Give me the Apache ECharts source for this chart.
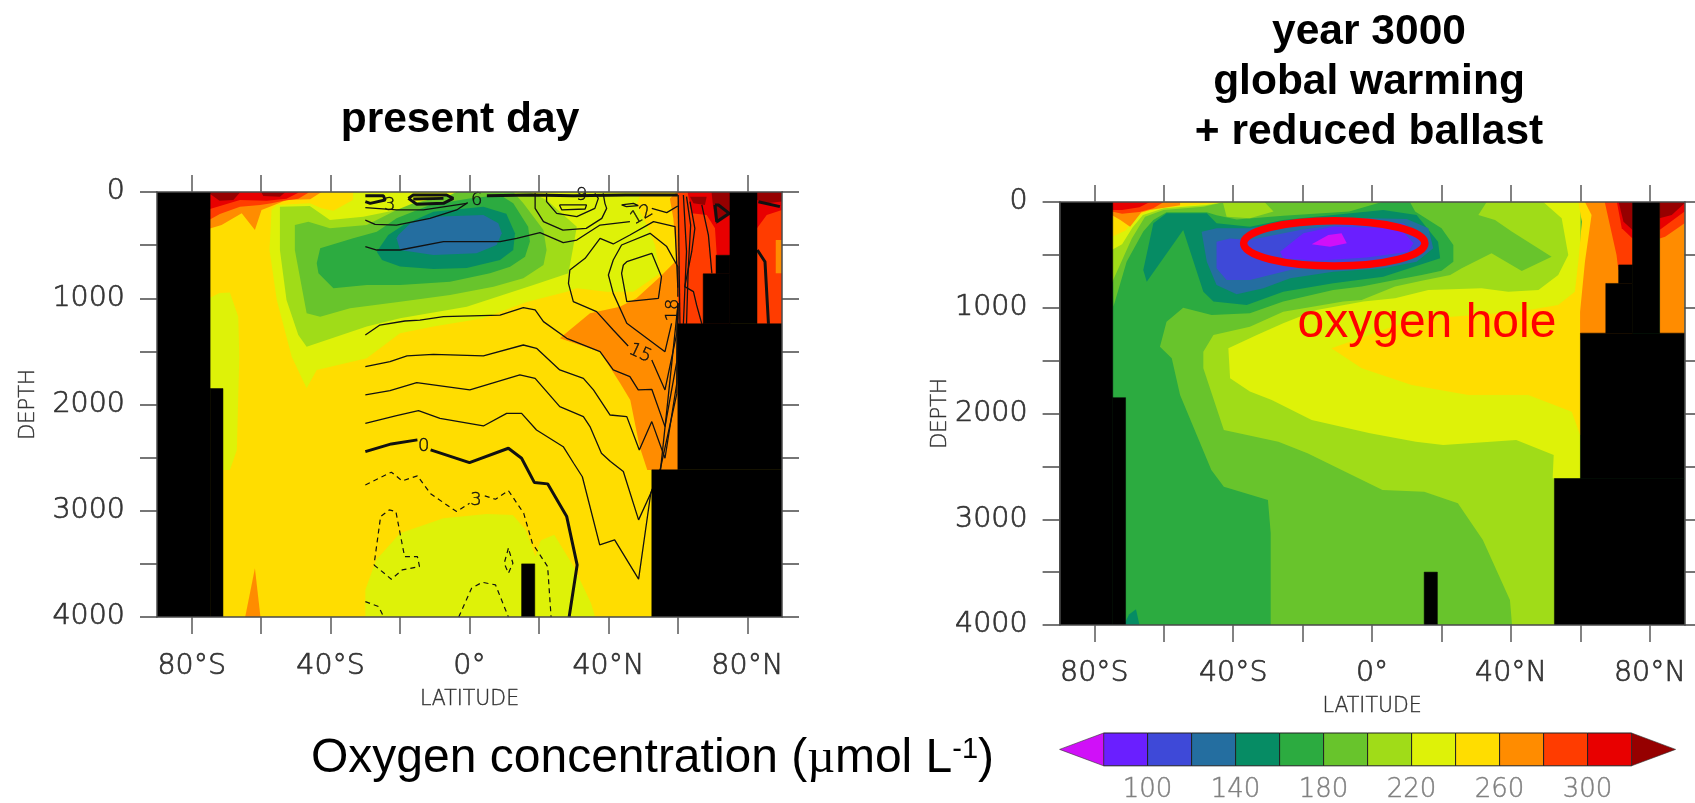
<!DOCTYPE html>
<html>
<head>
<meta charset="utf-8">
<title>Oxygen concentration sections</title>
<script src="https://cdn.jsdelivr.net/npm/echarts@6/dist/echarts.min.js"></script>
<style>html,body{margin:0;padding:0;background:#fff}#c{width:1695px;height:803px}</style>
</head>
<body>
<div id="c"></div>
<script>
// ---------- tick values / labels ----------
const latTicks = [-80,-60,-40,-20,0,20,40,60,80];
const latLabels = [-80,-40,0,40,80];
const depthLabels = [0,1000,2000,3000,4000];
const barLabels = [100,140,180,220,260,300];
const barEdges = [80,100,120,140,160,180,200,220,240,260,280,300,320];

// band value -> colour (band centre in umol/L)
const bandValues = [70,90,110,130,150,170,190,210,230,250,270,290,310,330];
const bandColors = ['#D010F8','#6A1FFF','#3E49D8','#246EA0','#068C64','#2CAB40','#68C42C','#A0DC18','#DEF208','#FFDD00','#FF8C00','#FF3C00','#E80000','#960000'];

// ---------- ocean floor (both panels): [lat0, lat1, depth0, depth1] ----------
const floorBlocks = [
  [-90,-74.7,0,4000],[-74.7,-71,1850,4000],[15,18.8,3500,4000],
  [52.5,90,2615,4000],[60,90,1240,2615],[67.3,75,770,1240],[71,75,595,770],[75,82.8,0,1240]
];

// ---------- present day: regions of equal oxygen, [lat, depth] ----------
const pBase = [[-75,0],[90,0],[90,4000],[-75,4000]];
const pTopLeft270 = [[-75,345],[-71.4,310],[-65.6,200],[-61.8,358],[-59.9,170],[-57.5,138],[-52.7,75],[-45.9,69],[-42.6,0],[-75,0]];
const pTopLeft290 = [[-75,263],[-71.9,207],[-66.1,138],[-60.3,122],[-57,107],[-53.6,82],[-49.3,63],[-46.4,6],[-46.4,0],[-75,0]];
const pTopLeft310 = [[-75,163],[-70.9,122],[-66.1,75],[-58.4,82],[-52.7,63],[-49.3,6],[-49.3,0],[-75,0]];
const pTopLeft330a = [[-75,0],[-66,0],[-68,75],[-72,82],[-75,12]];
const pTopLeft330b = [[-60,0],[-53,0],[-54.6,44],[-59.4,38]];
const pMain230 = [[-57,163],[-55.5,122],[-46,107],[-42.6,154],[-39.2,176],[-33.6,75],[-33.5,0],[49.6,0],[48.1,122],[51.5,342],[53.4,499],[54.9,765],[47.2,938],[39.5,938],[30.9,907],[28,938],[16.5,1035],[4,1189],[-10.4,1267],[-20,1330],[-29.6,1565],[-44,1675],[-46.9,1848],[-51.2,1550],[-55.5,1016],[-57.6,546]];
const pWest230 = [[-75,1000],[-72,950],[-69,947],[-66.6,1173],[-66.3,1550],[-67,2428],[-69,2616],[-71.5,2616],[-75,1850]];
const pDeep230 = [[-30,4000],[-30,3745],[-26.9,3463],[-20,3212],[-7.5,3070],[5,3030],[12.5,3039],[16.2,3180],[19,3430],[20.5,3280],[24.4,3227],[30,3525],[35,3870],[36.2,4000]];
const pSpike270 = [[-64.6,4000],[-61.8,3541],[-60.2,4000]];
const pEast270 = [[26,1377],[34.7,1142],[43.3,1079],[48.1,1000],[54.9,797],[59.7,640],[58.7,248],[57.7,60],[59.7,0],[62,0],[62,1300],[60,2616],[51.2,2616],[49,2397],[46.3,1957],[43.4,1800],[37.6,1503]];
const pArctic290 = [[60,0],[75,0],[75,1300],[60,1300]];
const pArctic310 = [[62.8,0],[64,200],[68.3,216],[70.7,342],[71.2,593],[75,593],[75,0]];
const pArctic330a = [[63.5,44],[68.3,44],[67.8,122],[64.5,107]];
const pArctic330b = [[69.7,0],[75,0],[75,216],[71,304],[70.2,154]];
const pPole290 = [[82.8,0],[90,0],[90,1300],[82.8,1300]];
const pPole270 = [[88.2,452],[90,452],[90,765],[88.2,765]];
const pPole310 = [[82.8,0],[90,0],[90,169],[85.6,216],[82.8,342]];
const pPole330 = [[82.8,0],[90,0],[90,90],[85.6,107],[82.8,75]];
const pCore210 = [[-54.6,138],[-46,132],[-40.2,264],[-30.6,232],[-21,169],[-8.5,60],[-1.8,22],[0,0],[17.4,0],[22.2,75],[30.9,326],[29.9,514],[28.5,765],[18.4,875],[-0.8,1079],[-20,1189],[-29.6,1267],[-46.9,1456],[-49.3,1346],[-52.7,1016],[-54.6,546]];
const pCore190 = [[-50.3,311],[-46.4,279],[-40.2,342],[-29.6,311],[-21,169],[-16.2,107],[-5.6,28],[-3.7,0],[12.6,0],[15.5,107],[21.3,358],[22.2,546],[21.3,687],[15.5,812],[6.9,891],[-5.6,969],[-20,1032],[-34.4,1095],[-43,1173],[-46.9,1142],[-50.3,546]];
const pCore170 = [[-44,671],[-43,530],[-33.5,436],[-26.7,373],[-21,248],[-11.4,122],[0,60],[8.8,28],[12.6,107],[16.9,326],[17.4,467],[16,609],[11.7,703],[5.9,765],[-5.6,844],[-20,875],[-29.6,875],[-39.2,907],[-43.5,765]];
const pCore150 = [[-26.7,562],[-23.4,405],[-19,310],[-10.4,185],[4,138],[10.6,204],[13.1,389],[12.6,545],[8.8,640],[-0.8,716],[-10.4,725],[-20,700],[-25.2,640]];
const pCore130 = [[-20.5,405],[-17,295],[-10.4,232],[4,216],[8.3,295],[9.3,389],[7.8,499],[2,577],[-10.4,593],[-20,546],[-21,436]];
const presentRegions = [
  [250,pBase],[270,pTopLeft270],[290,pTopLeft290],[310,pTopLeft310],[330,pTopLeft330a],[330,pTopLeft330b],
  [230,pMain230],[230,pWest230],[230,pDeep230],[270,pSpike270],[270,pEast270],
  [290,pArctic290],[310,pArctic310],[330,pArctic330a],[330,pArctic330b],
  [290,pPole290],[270,pPole270],[310,pPole310],[330,pPole330],
  [210,pCore210],[190,pCore190],[170,pCore170],[150,pCore150],[130,pCore130]
];

// ---------- year 3000: regions of equal oxygen ----------
const fBase = [[-75,0],[90,0],[90,4000],[-75,4000]];
const f190 = [[-74.5,990],[-70.7,564],[-65.9,280],[-63,170],[-59.2,98],[-47.6,98],[-44.8,125],[-39,165],[-25.6,130],[-6.6,90],[2.8,0],[10.9,0],[12.4,91],[20,249],[23.4,407],[23.4,564],[20,650],[14.3,690],[6.6,738],[-3,800],[-11.2,832],[-25.6,942],[-35.2,1053],[-46.2,1069],[-54.4,999],[-59.2,1132],[-61.1,1368],[-57.7,1478],[-55.3,1825],[-46.3,2534],[-42.7,2692],[-30,2818],[-29.2,3133],[-29.2,4000],[60,4000],[60,0],[-75,0]];
const f210West = [[-75,769],[-69.2,344],[-65.4,139],[-60.1,76],[-48.6,44],[-42.4,0],[-75,0]];
const f210Patch = [[-43,0],[-31,0],[-28.4,91],[-35.2,154],[-41.9,139]];
const f210Main = [[-48.6,1415],[-45.7,1258],[-35.2,1179],[-25.6,1037],[-8.3,942],[-3,927],[6.6,800],[14.3,745],[22.5,690],[25.8,627],[34.4,485],[43.1,652],[51.7,517],[40.2,280],[35.4,170],[30.6,123],[33,0],[60,0],[60,4000],[40.3,4000],[39.7,3763],[31.9,3196],[24.7,2849],[15,2739],[3,2723],[-18.6,2376],[-27,2266],[-42.7,2156],[-48.6,1573]];
const f230Main = [[-41.4,1384],[-33.2,1258],[-25.6,1147],[-16,1021],[-2.5,942],[6.6,911],[16.2,832],[31.5,816],[39.2,848],[47.9,832],[53.6,690],[56.5,501],[54.6,154],[49.3,0],[60,0],[60,2613],[52,2613],[52.3,2392],[41.5,2250],[20.5,2298],[12.6,2266],[-0.6,2187],[-17.4,2061],[-28.9,1872],[-35.2,1793],[-40.9,1667]];
const f250Main = [[59.4,0],[60.4,186],[59.4,564],[58.4,848],[53.6,974],[42.1,1037],[22.9,1084],[11.4,1116],[-11.7,1384],[-3,1573],[11.4,1730],[27.7,1825],[45,1825],[57.5,1983],[59.9,2203],[61,2203],[64,0]];
const f270Arctic = [[61.3,0],[63.2,123],[61.3,564],[59.9,1037],[59.9,1300],[75,1300],[75,0]];
const f290Arctic = [[67,0],[70.4,501],[70.9,640],[75,640],[75,0]];
const f310Arctic = [[70.5,0],[71.9,249],[75,344],[75,0]];
const f330Arctic = [[71,0],[72.4,186],[75,265],[75,0]];
const f270Pole = [[82.8,0],[90,0],[90,1300],[82.8,1300]];
const f290Pole = [[82.8,344],[84.4,328],[90,202],[90,0],[82.8,0]];
const f310Pole = [[82.8,265],[90,91],[90,0],[82.8,0]];
const f330Pole = [[82.8,154],[86.3,123],[90,12],[90,0],[82.8,0]];
const f230West = [[-75,454],[-72,400],[-69,240],[-66,123],[-60,60],[-48,30],[-42.5,0],[-75,0]];
const f250West = [[-75,0],[-42.4,0],[-55.3,40],[-64,70],[-68.3,150],[-71,270],[-75,330]];
const f270West = [[-75,0],[-55.3,0],[-55.3,30],[-64,76],[-66.5,100],[-69.7,233],[-72.5,170],[-75,123]];
const f290West = [[-75,0],[-60,0],[-63,60],[-67,95],[-72,110],[-75,90]];
const f310West = [[-75,0],[-64,0],[-67,50],[-72,76],[-75,76]];
const f150Core = [[-64.9,753],[-54.4,265],[-48.6,848],[-45.7,942],[-36.1,974],[-25.6,848],[-11.2,769],[3.2,706],[19.6,533],[19,375],[12.8,123],[3.2,76],[-11.2,123],[-25.6,170],[-35.2,233],[-44.8,202],[-47.6,107],[-59.2,107],[-63,202],[-65.9,643]];
const f130Core = [[-49.1,281],[-47.6,564],[-44.8,785],[-39,873],[-31.3,816],[-23.6,722],[-11.2,659],[3.2,627],[12.8,564],[17.6,438],[16.2,249],[10,161],[-6.4,148],[-25.6,202],[-35.2,249],[-44.8,249]];
const f110Core = [[-44.8,375],[-44.8,627],[-41.9,738],[-35.2,738],[-23.6,643],[-11.2,580],[3.2,564],[13.8,485],[15.7,344],[9,202],[-6.4,202],[-20.8,265],[-35.2,359],[-41,344]];
const f90Core = [[-26.5,470],[-19.8,296],[-11.2,233],[8,249],[11.9,391],[10.4,470],[-1.6,526],[-16,555],[-25.6,533]];
const f70Core = [[-17.4,400],[-12.6,312],[-8.8,296],[-7.3,391],[-12.1,422]];
const f150Deep = [[-71.5,4000],[-70,3900],[-68,3850],[-67,4000]];
const futureRegions = [
  [170,fBase],[190,f190],[210,f210West],[210,f210Patch],[210,f210Main],[230,f230Main],[250,f250Main],
  [270,f270Arctic],[290,f290Arctic],[310,f310Arctic],[330,f330Arctic],
  [270,f270Pole],[290,f290Pole],[310,f310Pole],[330,f330Pole],
  [230,f230West],[250,f250West],[270,f270West],[290,f290West],[310,f310West],
  [150,f150Core],[130,f130Core],[110,f110Core],[90,f90Core],[70,f70Core],[150,f150Deep]
];

// ---------- present day contour lines ----------
const zeroA = [[-30,2443],[-22.5,2371],[-15,2333]];
const zeroB = [[-11.2,2427],[0,2547],[11.2,2412],[15,2506],[18.7,2735],[22.5,2747],[28,3055],[31,3510],[28.7,4000]];
const zeroArctic = [[70.7,122],[71.2,279],[74.8,201],[71.7,122],[70.7,122]];
const zeroPole = [[82.9,546],[85.1,656],[86.1,1240]];
const neg3A = [[-30,2757],[-22.5,2637],[-19.4,2719],[-15,2672],[-11.2,2841],[-3.7,3008],[0,2930]];
const neg3B = [[4.4,2860],[7.5,2892],[11.2,2810],[15.6,3023],[18.1,3306],[22.5,3525],[23.5,4000]];
const neg3C = [[-27.5,3510],[-22.5,3644],[-19.4,3557],[-14.4,3525],[-15,3431],[-18.7,3431],[-20,3212],[-21.2,3008],[-23.1,2992],[-25.6,3055],[-27.5,3510]];
const neg3D = [[11.2,3353],[10,3494],[11.2,3588],[12.5,3494],[11.2,3353]];
const neg3E = [[-3.1,4000],[0.6,3729],[3.7,3673],[7.5,3698],[11.2,4000]];
const neg3F = [[-30,3855],[-26.2,3902],[-24.7,4000]];
const c3 = [[-30,2177],[-21,2105],[-14.7,2058],[-8.5,2130],[4,2202],[10.7,2083],[15,2083],[19.3,2240],[27,2397],[30,2553],[32.5,2680],[37.5,3321],[41.8,3274],[48.7,3644],[52.2,2835],[55,2620],[59.9,1100]];
const c6 = [[-30,1910],[-22.9,1870],[-15.2,1794],[0.1,1863],[14.5,1722],[18.9,1754],[26,2020],[32.8,2114],[34.7,2208],[38,2459],[40.6,2537],[44.3,2631],[48.7,3086],[52.2,2835],[55,2600],[59.7,1900],[60,1048]];
const c9 = [[-30,1644],[-22.9,1597],[-18,1543],[-10.4,1528],[4,1543],[15.5,1440],[19.3,1471],[26,1675],[32.8,1754],[35.7,1863],[40.5,2099],[45.3,2114],[48.9,2428],[52.5,2161],[56.3,2506],[59.7,1800],[60,1048]];
const c12 = [[-30,1346],[-25.8,1252],[-18.6,1214],[-14.3,1205],[-7.5,1173],[8.8,1158],[15.5,1088],[18.9,1110],[21.3,1220],[28,1377],[37.6,1503],[41.4,1675],[46.2,1738],[48.6,1863],[52.5,1857],[56.3,2208],[59.7,1597],[60,1048]];
const c15A = [[60,1048],[59.7,1330],[56.3,1863],[52.5,1581]];
const c15B = [[45.7,1449],[41.4,1299],[36.6,1126],[29.9,1032],[28.5,860],[28.9,734],[33.3,624],[37.6,436],[41.4,489],[46.2,405],[53,279],[59.2,326],[60,900]];
const c18 = [[58.2,1236],[56.3,1503],[45.3,1236],[41.4,954],[40,781],[41.4,640],[43.8,499],[52,389],[56.8,514],[60,703],[60,985]];
const c21 = [[44.3,687],[45.3,656],[52.5,577],[55.3,797],[54.4,1001],[45.3,1032],[43.8,765],[44.3,687]];
const lineNorthA = [[-30,514],[-26.7,546],[-20,546],[-7.5,467],[8.8,467],[13.6,436],[20.3,383],[27,477],[30.9,452],[37.6,311],[46.2,279]];
const lineNorthB = [[52.5,154],[56.8,194],[60,132]];
const lineUpperA = [[-30,264],[-27.2,304],[-21,311],[-11.4,248],[-3.7,169],[-0.5,100]];
const lineUpperB = [[-30,147],[-21,169],[-13.3,169],[-0.8,107]];
const ringOuter = [[18.9,12],[18.9,154],[21.3,279],[26.9,358],[33.6,342],[38.1,248],[39.5,154],[39,107],[38.5,12]];
const ringMiddle = [[22.2,12],[22.2,91],[25.1,201],[30.9,232],[36.1,154],[37.1,60],[36.1,12]];
const ringInner = [[25.9,122],[33.7,122],[33.3,160],[26.6,169],[25.9,122]];
const ringSmall = [[43.8,122],[47.2,107],[48.6,129],[45.2,138],[43.8,122]];
const topLine = [[5,35],[18,28],[30,35],[45,28],[60,28]];
const blobA = [[-30,35],[-24.8,35],[-24.3,75],[-28.6,107],[-30,91]];
const blobB = [[-17.6,60],[-16.2,28],[-6.6,28],[-4.7,60],[-7.5,107],[-15.2,116],[-17.6,60]];
const blobBInner = [[-16.2,66],[-7.5,60]];
const arcticV1 = [[60.1,28],[60.6,1240]];
const arcticV2 = [[61.6,28],[62.5,562],[61.6,1240]];
const arcticV3 = [[62.5,44],[63.7,311],[63,718],[62.5,1240]];
const arcticV4 = [[63.5,91],[64.9,342],[64,562],[62,891],[64.5,938],[65.4,1063],[66.9,1240]];
const arcticV5 = [[66.9,122],[68.8,405],[69.8,765]];
const poleLine = [[83.2,91],[89.4,138]];
const thinLines = [c3,c6,c9,c12,c15A,c15B,c18,c21,lineNorthA,lineNorthB,lineUpperA,lineUpperB,ringOuter,ringMiddle,ringInner,ringSmall,arcticV1,arcticV2,arcticV3,arcticV4,arcticV5];
const thickLines = [zeroA,zeroB,zeroArctic,zeroPole,blobA,blobB,blobBInner,topLine,poleLine];
const dashedLines = [neg3A,neg3B,neg3C,neg3D,neg3E,neg3F];
// contour labels: [lat, depth, text, rotation in degrees]
const contourLabels = [[-13.2,2395,'0',0],[1.9,2900,'3',0],[-23,125,'3',0],[2.1,75,'6',0],[32.3,35,'9',0],[49.6,216,'12',30],[49.1,1518,'15',-25],[58.7,1110,'18',90]];

// ---------- annotation on the year 3000 panel ----------
const holeCentre = [-10.9,391];
const holeRadii = [26.1,214];
const holeText = [15.8,1150,'oxygen hole'];

const FAINT = {fontFamily:'"DejaVu Sans"',fontWeight:200,textBorderColor:'#333',textBorderWidth:0.7};
const colorOf = b => bandColors[bandValues.indexOf(b)];
function latText(v){ return v===0 ? '0°' : (v<0 ? (-v)+'°S' : v+'°N'); }
const GAP = {latName:[72,71],latLabel:[35,34],depthName:[118,109],depthPad:[4,6]};

function axesFor(i){
  const line = {show:true,onZero:false,lineStyle:{color:'#4a4a4a',width:1.5}};
  const tick = {show:true,inside:false,length:17,customValues:latTicks,lineStyle:{color:'#5a5a5a',width:1.5}};
  const ytick = {show:true,inside:false,length:17,lineStyle:{color:'#4a4a4a',width:1.5}};
  const common = {gridIndex:i,type:'value',min:-90,max:90,splitLine:{show:false},z:10,axisLine:line,axisTick:tick};
  const ycommon = {gridIndex:i,type:'value',inverse:true,min:0,max:4000,interval:500,splitLine:{show:false},z:10,axisLine:line,axisTick:ytick};
  return {
    x:[
      Object.assign({},common,{position:'bottom',name:'LATITUDE',nameLocation:'middle',nameGap:GAP.latName[i],
        nameTextStyle:Object.assign({fontSize:20.5,color:'#333'},FAINT,{textBorderWidth:0.4}),
        axisLabel:Object.assign({show:true,customValues:latLabels,formatter:latText,fontSize:28.5,color:'#333',margin:GAP.latLabel[i],hideOverlap:false},FAINT)}),
      Object.assign({},common,{position:'top',axisLabel:{show:false}})
    ],
    y:[
      Object.assign({},ycommon,{position:'left',name:'DEPTH',nameLocation:'middle',nameGap:GAP.depthName[i],nameRotate:90,
        nameTextStyle:Object.assign({fontSize:21,color:'#333'},FAINT,{textBorderWidth:0.4}),
        axisLabel:Object.assign({show:true,customValues:depthLabels,formatter:v=>String(v),fontSize:28.5,color:'#333',margin:32,hideOverlap:false,padding:[GAP.depthPad[i],0,0,0]},FAINT)}),
      Object.assign({},ycommon,{position:'right',axisLabel:{show:false}})
    ]
  };
}

function fieldSeries(regions,xi,yi){
  return {
    type:'custom',coordinateSystem:'cartesian2d',xAxisIndex:xi,yAxisIndex:yi,silent:true,clip:true,z:2,
    data:regions.map((r,i)=>[i,r[0]]),
    renderItem(params,api){
      const r = regions[params.dataIndex];
      return {type:'polygon',shape:{points:r[1].map(p=>api.coord(p))},style:{fill:colorOf(r[0])}};
    }
  };
}
function floorSeries(xi,yi){
  return {
    type:'custom',coordinateSystem:'cartesian2d',xAxisIndex:xi,yAxisIndex:yi,silent:true,clip:true,z:6,
    data:floorBlocks.map((b,i)=>[i,0]),
    renderItem(params,api){
      const b = floorBlocks[params.dataIndex];
      const pts = [[b[0],b[2]],[b[1],b[2]],[b[1],b[3]],[b[0],b[3]]].map(p=>api.coord(p));
      return {type:'polygon',shape:{points:pts},style:{fill:'#000',stroke:'#000',lineWidth:0.5}};
    }
  };
}
function lineSeries(points,width,type){
  return {type:'line',xAxisIndex:0,yAxisIndex:0,data:points,showSymbol:false,silent:true,smooth:false,z:4,animation:false,
    lineStyle:{color:'#111',width,type:type||'solid'}};
}

const axesA = axesFor(0), axesB = axesFor(1);

const option = {
  animation:false,
  backgroundColor:'#fff',
  title:[
    {text:'present day',left:455,top:90,textAlign:'center',textStyle:{fontFamily:'"Liberation Sans"',fontWeight:'bold',fontSize:42.5,color:'#000',lineHeight:50}},
    {text:'year 3000\nglobal warming\n+ reduced ballast',left:1364,top:2,textAlign:'center',textStyle:{fontFamily:'"Liberation Sans"',fontWeight:'bold',fontSize:42.5,color:'#000',lineHeight:50}}
  ],
  grid:[
    {left:157,top:192,width:625,height:425},
    {left:1059.6,top:202,width:625,height:423},
    {left:1059.6,top:733,width:616,height:35}
  ],
  xAxis:[...axesA.x,...axesB.x,
    {gridIndex:2,type:'value',min:60,max:340,interval:20,axisLine:{show:false,onZero:false},axisTick:{show:false},splitLine:{show:false},
     axisLabel:Object.assign({customValues:barLabels,formatter:v=>String(v),fontSize:26,color:'#808080',margin:11,hideOverlap:false},FAINT,{textBorderColor:'#808080',textBorderWidth:0.4})}],
  yAxis:[...axesA.y,...axesB.y,
    {gridIndex:2,type:'value',min:0,max:1,show:false}],
  series:[
    fieldSeries(presentRegions,0,0),
    ...thinLines.map(p=>lineSeries(p,1.3)),
    ...thickLines.map(p=>lineSeries(p,3)),
    ...dashedLines.map(p=>lineSeries(p,1.2,[5,4])),
    {type:'custom',coordinateSystem:'cartesian2d',xAxisIndex:0,yAxisIndex:0,silent:true,z:5,
     data:contourLabels.map(l=>[l[0],l[1]]),
     renderItem(params,api){
       const l = contourLabels[params.dataIndex], c = api.coord([l[0],l[1]]);
       return {type:'text',x:c[0],y:c[1],rotation:l[3]*Math.PI/180,
         style:{text:l[2],textAlign:'center',textVerticalAlign:'middle',fontSize:18,fontFamily:'"DejaVu Sans"',fontWeight:200,fill:'#111',stroke:'#111',lineWidth:0.4}};
     }},
    floorSeries(0,0),
    fieldSeries(futureRegions,2,2),
    floorSeries(2,2),
    {type:'custom',coordinateSystem:'cartesian2d',xAxisIndex:2,yAxisIndex:2,silent:true,clip:false,z:7,
     data:[holeCentre],
     renderItem(params,api){
       const c = api.coord(holeCentre), e = api.coord([holeCentre[0]+holeRadii[0],holeCentre[1]+holeRadii[1]]);
       return {type:'ellipse',shape:{cx:c[0],cy:c[1],rx:e[0]-c[0],ry:e[1]-c[1]},style:{fill:null,stroke:'#FF0000',lineWidth:7.5}};
     }},
    {type:'custom',coordinateSystem:'cartesian2d',xAxisIndex:2,yAxisIndex:2,silent:true,z:7,
     data:[[holeText[0],holeText[1]]],
     renderItem(params,api){
       const c = api.coord([holeText[0],holeText[1]]);
       return {type:'text',x:c[0],y:c[1],style:{text:holeText[2],textAlign:'center',textVerticalAlign:'middle',fontSize:48,fontFamily:'"Liberation Sans"',fill:'#FF0000'}};
     }},
    {type:'custom',coordinateSystem:'cartesian2d',xAxisIndex:4,yAxisIndex:4,silent:true,clip:false,z:3,
     data:barEdges.slice(0,-1).map((e,i)=>[e,barEdges[i+1],bandValues[i+1]]),
     renderItem(params,api){
       const a = api.coord([api.value(0),0]), b = api.coord([api.value(1),1]);
       return {type:'rect',shape:{x:a[0],y:b[1],width:b[0]-a[0],height:a[1]-b[1]},
         style:{fill:colorOf(api.value(2)),stroke:'#222',lineWidth:1}};
     }},
    {type:'custom',coordinateSystem:'cartesian2d',xAxisIndex:4,yAxisIndex:4,silent:true,clip:false,z:3,
     data:[[60,80,70],[340,320,330]],
     renderItem(params,api){
       const pts = [[api.value(0),0.5],[api.value(1),1],[api.value(1),0]].map(p=>api.coord(p));
       return {type:'polygon',shape:{points:pts},style:{fill:colorOf(api.value(2)),stroke:'#333',lineWidth:0.6}};
     }}
  ],
  graphic:[
    {type:'text',left:311,top:735,silent:true,
     style:{rich:{
        a:{fontFamily:'"Liberation Sans"',fontSize:48,fill:'#000'},
        m:{fontFamily:'"Liberation Serif"',fontSize:48,fill:'#000'},
        s:{fontFamily:'"Liberation Sans"',fontSize:29,fill:'#000',verticalAlign:'top'}
      },text:'{a|Oxygen concentration (}{m|µ}{a|mol L}{s|-1}{a|)}',fill:'#000',font:'48px "Liberation Sans"'}}
  ]
};
const chart = echarts.init(document.getElementById('c'),null,{renderer:'canvas'});
chart.setOption(option);
</script>
</body>
</html>
